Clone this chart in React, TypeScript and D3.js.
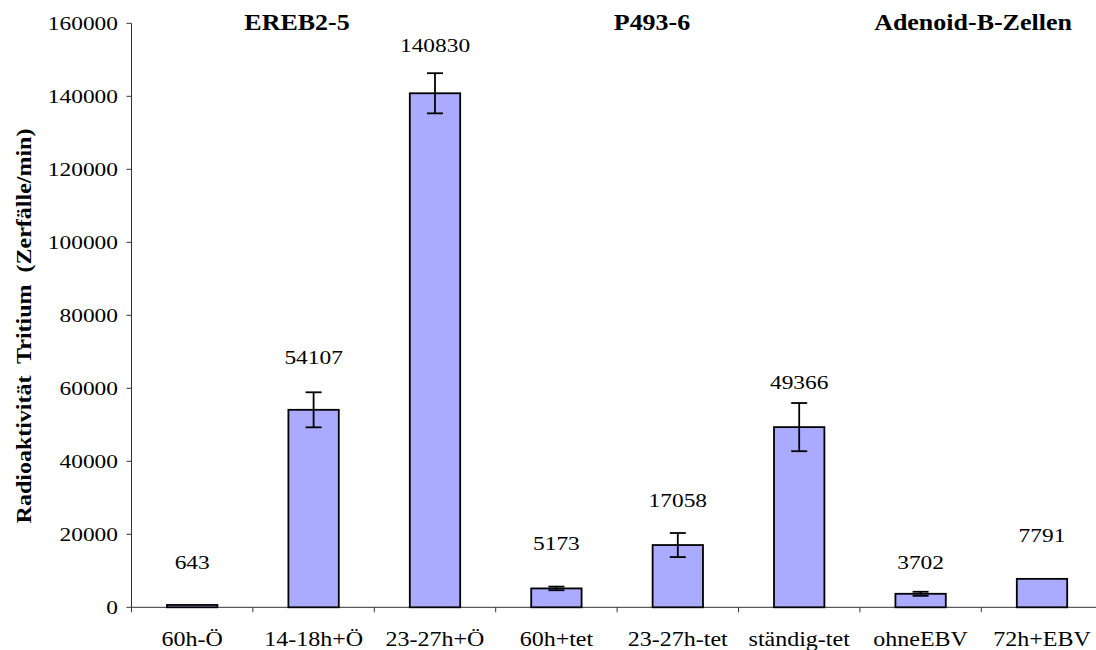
import React from "react";
import * as d3 from "d3";

const categories = ["60h-Ö", "14-18h+Ö", "23-27h+Ö", "60h+tet", "23-27h-tet", "ständig-tet", "ohneEBV", "72h+EBV"];
const values = [643, 54107, 140830, 5173, 17058, 49366, 3702, 7791];
const errors = [0, 4800, 5500, 500, 3300, 6600, 550, 0];
const labelDy = [2, -8, -3, 0, 0, 0, 13, 1];
const yTicks = [0, 20000, 40000, 60000, 80000, 100000, 120000, 140000, 160000];
const groupTitles = ["EREB2-5", "P493-6", "Adenoid-B-Zellen"];
const groupCenters = [297, 652, 973];
const yTitle = "Radioaktivität  Tritium  (Zerfälle/min)";

const FONT = "'Liberation Serif', 'Times New Roman', Times, 'DejaVu Serif', serif";
const SX = 1.2;

type TProps = { x: number; y: number; anchor?: string; size: number; bold?: boolean; rotate?: number; sx?: number; children: React.ReactNode };
function T({ x, y, anchor = "middle", size, bold, rotate = 0, sx = SX, children }: TProps) {
  return (
    <text
      transform={`translate(${x},${y}) rotate(${rotate}) scale(${sx},1)`}
      textAnchor={anchor}
      style={{ fontFamily: FONT, fontSize: size, fontWeight: bold ? 700 : 400, whiteSpace: "pre" }}
      fill="#000"
    >
      {children}
    </text>
  );
}

export default function App() {
  const W = 1096, H = 650;
  const left = 131.5, top = 23.3, bottom = 607.3;
  const step = 121.4;
  const x = d3.scaleBand<string>().domain(categories).range([left, left + step * categories.length]).padding(0);
  const y = d3.scaleLinear().domain([0, 160000]).range([bottom, top]);
  const bw = x.bandwidth() * 0.415;
  const capW = 8;

  return (
    <svg width={W} height={H} style={{ position: "absolute", left: 0, top: 0, background: "#fff" }}>
      <line x1={left} x2={left} y1={top} y2={bottom} stroke="#333" strokeWidth={1} />
      {yTicks.map((t) => (
        <g key={t}>
          <line x1={left - 5} x2={left} y1={y(t)} y2={y(t)} stroke="#333" strokeWidth={1} />
          <T x={118} y={y(t) + 6.5} anchor="end" size={19.5}>{t}</T>
        </g>
      ))}
      <line x1={left} x2={left + step * categories.length} y1={bottom} y2={bottom} stroke="#333" strokeWidth={1} />
      {categories.map((c) => (
        <g key={c}>
          <line x1={x(c)!} x2={x(c)!} y1={bottom} y2={bottom + 5} stroke="#333" strokeWidth={1} />
          <T x={x(c)! + x.bandwidth() / 2} y={646} size={20}>{c}</T>
        </g>
      ))}
      {categories.map((c, i) => {
        const cx = x(c)! + x.bandwidth() / 2;
        return (
          <rect key={c} x={cx - bw / 2} y={y(values[i])} width={bw} height={bottom - y(values[i])}
            fill="#aaaaff" stroke="#000" strokeWidth={1.8} />
        );
      })}
      {categories.map((c, i) => {
        if (!errors[i]) return null;
        const cx = x(c)! + x.bandwidth() / 2;
        const y1 = y(values[i] + errors[i]);
        const y2 = y(values[i] - errors[i]);
        return (
          <g key={c} stroke="#000" strokeWidth={1.8}>
            <line x1={cx} x2={cx} y1={y1} y2={y2} />
            <line x1={cx - capW} x2={cx + capW} y1={y1} y2={y1} />
            <line x1={cx - capW} x2={cx + capW} y1={y2} y2={y2} />
          </g>
        );
      })}
      {categories.map((c, i) => {
        const cx = x(c)! + x.bandwidth() / 2;
        return (
          <T key={c} x={cx} y={y(values[i]) - 38 + labelDy[i]} size={19.5}>{values[i]}</T>
        );
      })}
      {groupTitles.map((g, i) => (
        <T key={g} x={groupCenters[i]} y={30} size={23} bold sx={1.13}>{g}</T>
      ))}
      <T x={31} y={326} size={20} bold rotate={-90}>{yTitle}</T>
    </svg>
  );
}
